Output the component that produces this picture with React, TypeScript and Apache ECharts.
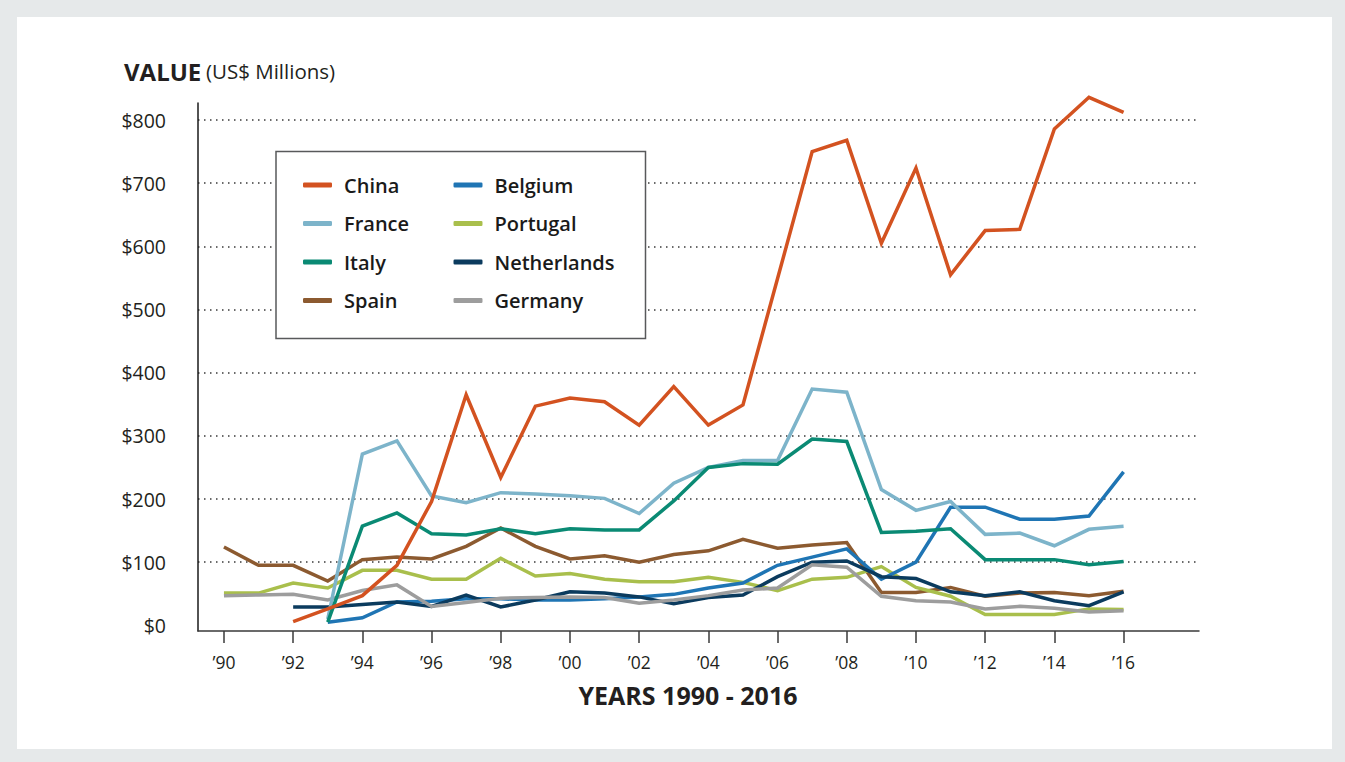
import React, { useEffect, useRef } from "react";
import * as echarts from "echarts";

const years: number[] = [1990,1991,1992,1993,1994,1995,1996,1997,1998,1999,2000,2001,2002,2003,2004,2005,2006,2007,2008,2009,2010,2011,2012,2013,2014,2015,2016];
const xTickYears: number[] = [1990,1992,1994,1996,1998,2000,2002,2004,2006,2008,2010,2012,2014,2016];
const yLabelValues: number[] = [0,100,200,300,400,500,600,700,800];
const yGridValues: number[] = [100,200,300,400,500,600,700,800];

const china = [null,null,6,26,47,95,196,365,234,347,360,354,317,378,317,349,549,750,768,605,724,555,625,627,786,836,812];
const france = [null,null,null,10,271,292,205,194,210,208,205,201,177,225,250,261,261,374,369,215,182,196,144,146,126,152,157];
const italy = [null,null,null,5,157,178,145,143,153,145,153,151,151,197,250,256,255,295,291,147,149,153,104,104,104,96,101];
const spain = [124,95,95,70,104,108,105,125,154,125,105,110,100,112,118,136,122,127,131,52,52,60,46,51,52,47,54];
const belgium = [null,null,null,5,12,37,38,42,42,40,40,42,45,49,59,67,95,108,121,73,100,187,187,168,168,173,243];
const portugal = [51,51,67,59,87,87,73,73,106,78,82,73,69,69,76,68,55,73,76,93,60,46,17,17,17,26,25];
const netherlands = [null,null,29,29,33,37,30,48,29,40,53,51,45,34,44,48,77,100,102,77,74,53,47,53,39,31,53];
const germany = [47,48,49,40,55,64,30,36,43,44,45,44,35,40,47,56,59,96,92,46,39,37,26,30,27,21,23];

const legendCol1 = ["China", "France", "Italy", "Spain"];
const legendCol2 = ["Belgium", "Portugal", "Netherlands", "Germany"];

// drawing order (bottom to top)
const seriesDefs: { name: string; data: (number | null)[]; color: string }[] = [
  { name: "Spain", data: spain, color: "#8c5a30" },
  { name: "Portugal", data: portugal, color: "#a9bf4c" },
  { name: "Belgium", data: belgium, color: "#1f75b4" },
  { name: "Netherlands", data: netherlands, color: "#0b3b5e" },
  { name: "Germany", data: germany, color: "#9d9d9d" },
  { name: "France", data: france, color: "#7db4ca" },
  { name: "Italy", data: italy, color: "#0a8a74" },
  { name: "China", data: china, color: "#d35220" },
];

const FONT = "'Open Sans', 'Noto Sans', sans-serif";
const TXT = "#231f20";

export default function App() {
  const ref = useRef<HTMLDivElement>(null);
  useEffect(() => {
    if (!ref.current) return;
    const chart = echarts.init(ref.current, null, { renderer: "svg" });
    const legendCommon = {
      orient: "vertical" as const,
      top: 175,
      padding: 0,
      itemGap: 18.5,
      itemWidth: 29,
      itemHeight: 5,
      icon: "roundRect",
      z: 6,
      textStyle: {
        fontFamily: FONT,
        fontSize: 20,
        fontWeight: 600,
        color: "#1a1a1a",
        lineHeight: 20,
        padding: [0, 0, 0, 7],
      },
    };
    chart.setOption({
      animation: false,
      backgroundColor: "transparent",
      textStyle: { fontFamily: FONT },
      title: {
        text: "{a|VALUE} {b|(US$ Millions)}",
        left: 124,
        top: 56,
        padding: 0,
        textStyle: {
          rich: {
            a: { fontFamily: FONT, fontSize: 24, fontWeight: "bold", color: TXT, lineHeight: 30 },
            b: { fontFamily: FONT, fontSize: 20.5, fontWeight: "normal", color: TXT, lineHeight: 30 },
          },
        },
      },
      graphic: [
        {
          type: "rect",
          z: 4,
          shape: { x: 276, y: 151.5, width: 369.5, height: 187 },
          style: { fill: "#ffffff", stroke: "#58595b", lineWidth: 1.5 },
        },
        {
          type: "text",
          z: 4,
          x: 688,
          y: 695,
          style: {
            text: "YEARS 1990 - 2016",
            fontFamily: FONT,
            fontSize: 25,
            fontWeight: "bold",
            fill: TXT,
            align: "center",
            verticalAlign: "middle",
          },
        },
      ],
      legend: [
        { ...legendCommon, left: 303, data: legendCol1 },
        { ...legendCommon, left: 453.5, data: legendCol2 },
      ],
      grid: { left: 198, right: 146, top: 103, bottom: 131, containLabel: false, outerBoundsMode: "none" },
      xAxis: {
        type: "value",
        min: 1989.25,
        max: 2018.18,
        axisLine: { show: true, onZero: false, lineStyle: { color: "#3a3a3a", width: 1.5 } },
        axisTick: { show: true, length: 12, customValues: xTickYears, lineStyle: { color: "#3a3a3a", width: 1.5 } },
        axisLabel: {
          customValues: xTickYears,
          formatter: (v: number) => "\u2019" + String(Math.round(v)).slice(2),
          margin: 22,
          fontFamily: FONT,
          fontSize: 17.5,
          color: TXT,
        },
        splitLine: { show: false },
      },
      yAxis: {
        type: "value",
        min: -9,
        max: 827,
        axisLine: { show: true, onZero: false, lineStyle: { color: "#1a1a1a", width: 1.5 } },
        axisTick: { show: false, customValues: yGridValues },
        axisLabel: {
          customValues: yLabelValues,
          formatter: (v: number) => "$" + Math.round(v),
          margin: 32,
          fontFamily: FONT,
          fontSize: 19.5,
          color: TXT,
        },
        splitLine: { show: true, lineStyle: { color: "#3a3a3a", width: 1.5, type: [1.5, 4.5] } },
      },
      series: seriesDefs.map((s) => ({
        name: s.name,
        type: "line",
        data: years.map((y, i) => [y, s.data[i]]),
        symbol: "none",
        clip: false,
        connectNulls: false,
        color: s.color,
        lineStyle: { color: s.color, width: 3.5, join: "miter" },
        itemStyle: { color: s.color },
      })),
    });
    return () => chart.dispose();
  }, []);
  return (
    <div style={{ position: "fixed", left: 0, top: 0, width: 1345, height: 762, background: "#e6e9ea" }}>
      <div style={{ position: "absolute", left: 17, top: 17, width: 1315, height: 732, background: "#ffffff" }} />
      <div ref={ref} style={{ position: "absolute", left: 0, top: 0, width: 1345, height: 762 }} />
    </div>
  );
}
